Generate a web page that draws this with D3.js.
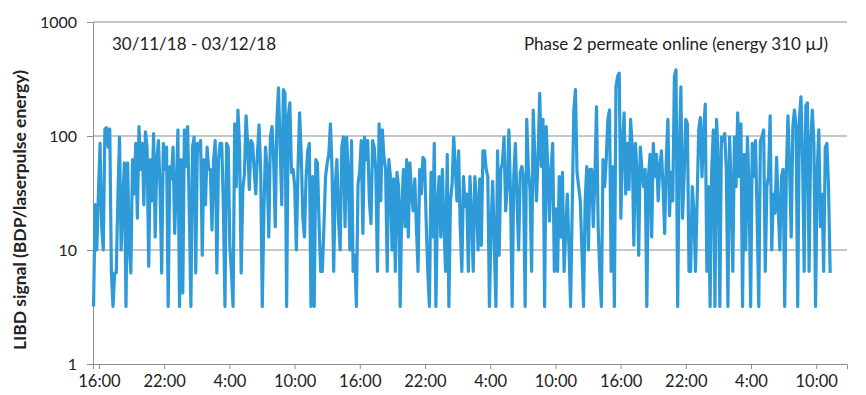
<!DOCTYPE html>
<html>
    <head>
        <script src="https://cdn.jsdelivr.net/npm/d3@7"></script>
        <style>
            body { margin: 0; background: #fff; }
            text { font-family: Lato, "Liberation Sans", sans-serif; fill: #222; }
        </style>
    </head>
    <body>
        <svg id="chart" width="866" height="395"></svg>
        <script>
            // Data: LIBD readings (segments of ~95 px each)
            var seg1 = [3.2, 25, 10, 31, 86, 16, 10, 115, 118, 80, 115, 6.3, 3.2, 6.3, 6.3, 29, 98, 10, 27, 58, 3.2, 58, 11, 6.3, 62, 31, 86, 19, 121, 51, 86, 25, 109, 80, 7.2, 62, 27, 105, 13, 62, 91, 34, 6.3, 86, 51, 80, 3.2, 54, 42, 80, 14, 36, 113, 3.2, 62];
            var seg2 = [4.2, 113, 54, 121, 22, 3.2, 80, 98, 6.3, 86, 74, 91, 9, 62, 25, 80, 51, 51, 15, 62, 91, 6.3, 62, 86, 86, 25, 3.2, 86, 80, 11, 6.3, 3.2, 128, 36, 169, 80, 6.3, 34, 47, 150, 86, 34, 91, 86, 51, 31, 69, 125, 51, 3.2, 22, 80, 51, 13, 98, 121];
            var seg3 = [62, 16, 140, 265, 80, 25, 255, 237, 3.2, 150, 195, 48, 51, 36, 10, 51, 160, 69, 19, 13, 44, 74, 86, 3.2, 44, 3.2, 62, 58, 17, 6.5, 6.5, 16, 44, 58, 69, 128, 51, 6.5, 38, 62, 18, 10, 80, 98, 16, 98, 48, 10, 91, 6.5, 9, 3.2, 38, 48, 91, 14, 98, 62, 91];
            var seg4 = [27, 17, 91, 80, 48, 6.5, 128, 27, 113, 65, 51, 6.5, 62, 44, 10, 42, 6.5, 48, 36, 3.2, 24, 51, 16, 62, 13, 58, 31, 22, 42, 16, 6.5, 51, 31, 65, 62, 18, 6.5, 3.2, 48, 13, 86, 3.2, 25, 44, 13, 51, 16, 6.5, 69, 3.2, 27, 38, 98, 51, 27, 74, 16, 6.5, 44, 24];
            var seg5 = [31, 6.5, 44, 20, 6.5, 44, 27, 10, 42, 11, 74, 74, 51, 44, 3.2, 16, 40, 11, 3.2, 74, 9, 51, 58, 98, 22, 36, 113, 31, 3.2, 44, 86, 27, 10, 48, 54, 42, 3.2, 140, 51, 34, 6.5, 169, 62, 27, 69, 237, 54, 140, 3.2, 121, 51, 18, 51, 86, 6.5, 23, 6.5, 44, 13, 48];
            var seg6 = [6.5, 14, 31, 11, 3.2, 22, 169, 255, 48, 36, 27, 10, 3.2, 27, 54, 10, 51, 51, 16, 44, 180, 16, 6.5, 3.2, 62, 36, 62, 140, 169, 6.5, 54, 3.2, 270, 334, 355, 19, 80, 160, 31, 86, 34, 140, 80, 11, 86, 48, 9, 80, 51, 36, 51, 3.2, 44, 69, 13, 86, 44, 69, 27];
            var seg7 = [54, 74, 36, 14, 62, 140, 20, 48, 27, 334, 380, 3.2, 69, 270, 19, 44, 140, 128, 6.5, 6.5, 36, 22, 6.5, 27, 113, 145, 44, 105, 190, 6.5, 36, 3.2, 51, 113, 3.2, 140, 62, 3.2, 98, 91, 105, 51, 3.2, 98, 36, 6.5, 98, 36, 160, 44, 128, 3.2, 69, 10, 98, 36, 3.2, 86, 44, 91];
            var seg8 = [19, 3.2, 91, 98, 113, 6.5, 36, 44, 150, 10, 31, 21, 65, 23, 10, 44, 51, 3.2, 48, 150, 51, 13, 121, 169, 121, 3.2, 140, 220, 62, 6.5, 185, 195, 6.5, 86, 169, 86, 3.2, 48, 113, 16, 31, 6.5, 80, 86, 36, 6.3];
            var signal = [].concat(seg1, seg2, seg3, seg4, seg5, seg6, seg7, seg8);

            // Time range of the measurement
            var firstReading = new Date(2018, 10, 30, 15, 30);
            var lastReading = new Date(2018, 11, 3, 11, 17);
            var axisStart = new Date(2018, 10, 30, 15, 27);
            var axisEnd = new Date(2018, 11, 3, 12, 50);
            var firstTick = new Date(2018, 10, 30, 16, 0);
            var tickCount = 12;
            var tickEveryHours = 6;
            var yTicks = [1, 10, 100, 1000];
            var dateLabel = "30/11/18 - 03/12/18";
            var phaseLabel = "Phase 2 permeate online (energy 310 \u00b5J)";
            var yTitle = "LIBD signal (BDP/laserpulse energy)";

            var step = (lastReading - firstReading) / (signal.length - 1);
            var data = signal.map(function(v, i) { return {t: new Date(+firstReading + i * step), v: v}; });

            // Layout
            var margin = {left: 93, right: 19, top: 22, bottom: 31};
            var width = 866 - margin.left - margin.right;
            var height = 395 - margin.top - margin.bottom;

            var svg = d3.select("svg#chart").append("g").attr("transform", "translate(" + margin.left + "," + margin.top + ")");

            var x = d3.scaleTime().domain([axisStart, axisEnd]).range([0, width]);
            var y = d3.scaleLog().domain([1, 1000]).range([height, 0]);

            // Gridlines
            svg.append("g").selectAll("line").data(yTicks.slice(1)).enter().append("line")
                .attr("x1", 0).attr("x2", width)
                .attr("y1", function(d) { return y(d); }).attr("y2", function(d) { return y(d); })
                .attr("stroke", "#8f8f8f").attr("stroke-width", 1);

            // Y axis
            var yAxis = d3.axisLeft(y).tickValues(yTicks).tickFormat(d3.format("d")).tickSize(6).tickPadding(10);
            var gy = svg.append("g").call(yAxis);
            gy.select(".domain").attr("stroke", "#8f8f8f");
            gy.selectAll(".tick line").attr("stroke", "#8f8f8f");
            gy.selectAll(".tick text").style("font-size", "16px").style("font-family", "Lato, sans-serif").attr("fill", "#222");

            // X axis
            var xTicks = d3.range(tickCount).map(function(i) { return d3.timeHour.offset(firstTick, i * tickEveryHours); });
            var xAxis = d3.axisBottom(x).tickValues(xTicks).tickFormat(d3.timeFormat("%-H:%M")).tickSize(5).tickPadding(6);
            var gx = svg.append("g").attr("transform", "translate(0," + height + ")").call(xAxis);
            gx.select(".domain").attr("stroke", "#8f8f8f");
            gx.selectAll(".tick line").attr("stroke", "#8f8f8f");
            gx.selectAll(".tick text").style("font-size", "16.5px").style("font-family", "Lato, sans-serif").attr("fill", "#222");

            // Signal line
            svg.append("path").datum(data)
                .attr("fill", "none").attr("stroke", "#2e9bd8").attr("stroke-width", 3.2).attr("stroke-linejoin", "round")
                .attr("d", d3.line().x(function(d) { return x(d.t); }).y(function(d) { return y(d.v); }));

            // Annotations
            svg.append("text").attr("x", 19).attr("y", 28).style("font-size", "17px").text(dateLabel);
            svg.append("text").attr("x", 735).attr("y", 28).attr("text-anchor", "end").style("font-size", "17px").text(phaseLabel);

            // Y title
            d3.select("svg#chart").append("text").attr("transform", "translate(26,210) rotate(-90)")
                .attr("text-anchor", "middle").style("font-size", "17.5px").style("font-weight", "bold").text(yTitle);
        </script>
    </body>
</html>
